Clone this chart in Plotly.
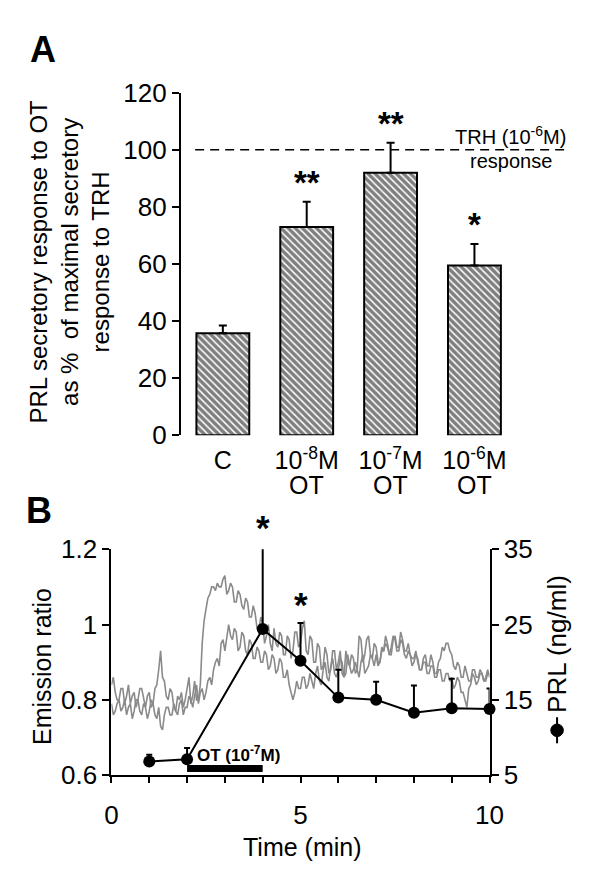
import plotly.graph_objects as go

W, H = 592, 871
FONT = "Liberation Sans, Arial, sans-serif"

# ---------------- Panel A data ----------------
cat_line1 = ["C", "10<sup>-8</sup>M", "10<sup>-7</sup>M", "10<sup>-6</sup>M"]
cat_line2 = ["", "OT", "OT", "OT"]
bar_vals = [35.7, 72.9, 91.9, 59.4]
bar_errs = [2.7, 8.9, 10.5, 7.6]
bar_stars = ["", "**", "**", "*"]
trh_level = 100

# ---------------- Panel B data ----------------
prl_time = [1, 2, 4, 5, 6, 7, 8, 9, 10]
prl_vals = [6.8, 7.1, 24.4, 20.2, 15.3, 15.0, 13.3, 13.9, 13.8]
prl_errs = [0.9, 1.5, 11.5, 5.0, 3.7, 2.4, 3.6, 3.9, 2.7]
prl_stars = {4: "*", 5: "*"}
ot_start, ot_end = 2, 4

trace_time = [round(0.05 * i, 2) for i in range(201)]
trace1 = [0.84, 0.86, 0.82, 0.80, 0.80, 0.83, 0.83, 0.79, 0.81, 0.84,
          0.79, 0.81, 0.82, 0.78, 0.80, 0.83, 0.83, 0.80, 0.78, 0.81,
          0.82, 0.78, 0.79, 0.83, 0.84, 0.88, 0.93, 0.86, 0.85, 0.81,
          0.80, 0.83, 0.82, 0.78, 0.77, 0.81, 0.80, 0.82, 0.78, 0.80,
          0.83, 0.86, 0.79, 0.81, 0.85, 0.80, 0.80, 0.84, 0.95, 1.01,
          1.04, 1.07, 1.08, 1.10, 1.10, 1.09, 1.11, 1.10, 1.10, 1.12,
          1.13, 1.08, 1.09, 1.11, 1.10, 1.06, 1.06, 1.09, 1.08, 1.05,
          1.04, 1.07, 1.06, 1.02, 1.02, 1.05, 1.03, 0.99, 0.99, 1.02,
          1.00, 0.95, 0.97, 1.00, 0.95, 0.93, 0.99, 0.95, 0.94, 0.98,
          0.97, 0.92, 0.92, 0.97, 0.96, 0.91, 0.93, 0.98, 0.98, 0.94,
          0.95, 0.99, 1.01, 0.93, 0.92, 0.97, 0.96, 0.90, 0.90, 0.95,
          0.94, 0.88, 0.89, 0.94, 0.92, 0.87, 0.88, 0.93, 0.93, 0.88,
          0.90, 0.93, 0.87, 0.86, 0.93, 0.90, 0.89, 0.92, 0.91, 0.87,
          0.88, 0.97, 0.96, 0.90, 0.92, 0.96, 0.97, 0.92, 0.91, 0.95,
          0.94, 0.90, 0.90, 0.94, 0.93, 0.97, 0.95, 0.92, 0.92, 0.96,
          0.97, 0.94, 0.94, 0.98, 0.96, 0.93, 0.93, 0.95, 0.92, 0.91,
          0.91, 0.93, 0.90, 0.88, 0.88, 0.91, 0.92, 0.89, 0.89, 0.92,
          0.90, 0.87, 0.87, 0.90, 0.91, 0.94, 0.93, 0.95, 0.95, 0.93,
          0.92, 0.89, 0.88, 0.90, 0.89, 0.86, 0.86, 0.89, 0.87, 0.85,
          0.85, 0.88, 0.88, 0.86, 0.86, 0.88, 0.87, 0.85, 0.85, 0.87,
          0.87]
trace2 = [0.79, 0.76, 0.77, 0.79, 0.80, 0.77, 0.78, 0.80, 0.76, 0.78,
          0.79, 0.75, 0.77, 0.80, 0.80, 0.77, 0.76, 0.79, 0.78, 0.75,
          0.77, 0.80, 0.79, 0.76, 0.75, 0.78, 0.73, 0.72, 0.76, 0.78,
          0.78, 0.76, 0.76, 0.79, 0.77, 0.76, 0.79, 0.80, 0.76, 0.78,
          0.78, 0.81, 0.80, 0.78, 0.81, 0.84, 0.79, 0.82, 0.83, 0.80,
          0.82, 0.85, 0.86, 0.84, 0.88, 0.90, 0.91, 0.89, 0.95, 0.96,
          0.93, 0.97, 1.00, 0.97, 0.96, 0.99, 0.98, 0.93, 0.94, 0.98,
          0.97, 0.93, 0.92, 0.96, 0.95, 0.91, 0.91, 0.94, 0.93, 0.90,
          0.90, 0.93, 0.92, 0.88, 0.89, 0.92, 0.91, 0.87, 0.88, 0.91,
          0.90, 0.86, 0.86, 0.88, 0.84, 0.82, 0.80, 0.82, 0.85, 0.83,
          0.83, 0.86, 0.86, 0.83, 0.84, 0.87, 0.85, 0.83, 0.87, 0.89,
          0.85, 0.84, 0.88, 0.90, 0.86, 0.85, 0.89, 0.91, 0.87, 0.86,
          0.88, 0.91, 0.90, 0.86, 0.87, 0.92, 0.89, 0.87, 0.88, 0.90,
          0.88, 0.86, 0.90, 0.92, 0.87, 0.88, 0.89, 0.92, 0.91, 0.89,
          0.92, 0.89, 0.90, 0.93, 0.93, 0.95, 0.94, 0.92, 0.94, 0.97,
          0.96, 0.93, 0.93, 0.96, 0.95, 0.92, 0.91, 0.93, 0.92, 0.89,
          0.90, 0.92, 0.91, 0.88, 0.88, 0.90, 0.90, 0.87, 0.87, 0.89,
          0.89, 0.86, 0.86, 0.88, 0.88, 0.85, 0.85, 0.87, 0.87, 0.85,
          0.86, 0.83, 0.84, 0.86, 0.85, 0.82, 0.82, 0.80, 0.78, 0.83,
          0.84, 0.87, 0.86, 0.84, 0.85, 0.87, 0.87, 0.85, 0.86, 0.88,
          0.86]


def px(x):
    return x / W


def py(y):
    return 1 - y / H


# axis domains (paper fractions)
XA = [px(172), px(572)]
YA = [py(427), py(72)]
XB = [px(100), px(492)]
YB = [py(779), py(545)]
Y3_RANGE = [5, 35]

fig = go.Figure()
bar_x = list(range(len(bar_vals)))

fig.add_trace(go.Bar(
    x=bar_x, y=bar_vals, width=0.63,
    marker=dict(color="white", line=dict(color="black", width=2),
                pattern=dict(shape="\\", fgcolor="black", bgcolor="white",
                             size=5, solidity=0.7)),
    error_y=dict(type="data", symmetric=False, array=bar_errs,
                 arrayminus=[0] * len(bar_errs), color="black",
                 thickness=2, width=4),
    xaxis="x", yaxis="y", showlegend=False, hoverinfo="skip"))

for tr in (trace1, trace2):
    fig.add_trace(go.Scatter(x=trace_time, y=tr, mode="lines",
                             line=dict(color="#8a8a8a", width=1.6),
                             xaxis="x2", yaxis="y2", showlegend=False,
                             hoverinfo="skip"))

fig.add_trace(go.Scatter(
    x=prl_time, y=prl_vals, mode="lines+markers",
    line=dict(color="black", width=2),
    marker=dict(color="black", size=12, symbol="circle"),
    error_y=dict(type="data", symmetric=False, array=prl_errs,
                 arrayminus=[0] * len(prl_errs), color="black",
                 thickness=2, width=3),
    xaxis="x2", yaxis="y3", showlegend=False, cliponaxis=False,
    hoverinfo="skip"))

axis_common = dict(showgrid=False, zeroline=False, linecolor="black",
                   linewidth=2, tickcolor="black", tickwidth=2,
                   tickfont=dict(family=FONT, size=26, color="black"))

fig.update_layout(
    width=W, height=H, margin=dict(l=0, r=0, t=0, b=0),
    paper_bgcolor="white", plot_bgcolor="rgba(0,0,0,0)",
    font=dict(family=FONT, color="black"),
    xaxis=dict(domain=XA, range=[-0.5, 4.1], anchor="y",
               showline=False, ticks="", tickvals=bar_x, ticktext=cat_line1,
               ticklabelstandoff=8, showgrid=False, zeroline=False,
               tickfont=dict(family=FONT, size=25, color="black")),
    yaxis=dict(domain=YA, range=[0, 120], anchor="x",
               showline=True, ticks="outside", ticklen=7,
               tickvals=list(range(0, 121, 20)), **axis_common),
    xaxis2=dict(domain=XB, range=[0, 10], anchor="y2",
                showline=True, ticks="outside", ticklen=6,
                tickvals=[0, 5, 10], ticklabelstandoff=10,
                minor=dict(tickvals=list(range(0, 11)), ticks="outside",
                           ticklen=6, tickwidth=2, tickcolor="black"),
                **axis_common),
    yaxis2=dict(domain=YB, range=[0.6, 1.2], anchor="x2",
                showline=True, ticks="outside", ticklen=7,
                tickvals=[0.6, 0.8, 1.0, 1.2],
                ticktext=["0.6", "0.8", "1", "1.2"], **axis_common),
    yaxis3=dict(range=Y3_RANGE, anchor="x2", overlaying="y2", side="right",
                showline=True, ticks="outside", ticklen=7,
                tickvals=[5, 15, 25, 35], **axis_common),
)

shapes = [
    dict(type="line", xref="x", yref="y", x0=-0.33, x1=4.07,
         y0=trh_level, y1=trh_level,
         line=dict(color="black", width=1.5, dash="9px,6px")),
    dict(type="line", xref="x2", yref="y2", x0=ot_start, x1=ot_end,
         y0=0.618, y1=0.618, line=dict(color="black", width=7)),
    # legend glyph beside the right-hand axis title
    dict(type="line", xref="paper", yref="paper", x0=px(562), x1=px(562),
         y0=py(719), y1=py(746), line=dict(color="black", width=2)),
    dict(type="circle", xref="paper", yref="paper",
         x0=px(555.5), x1=px(568.5), y0=py(726), y1=py(739),
         fillcolor="black", line=dict(color="black", width=1)),
]
fig.update_layout(shapes=shapes)

ann = []


def text(x, y, s, size, bold=False, angle=0, xref="paper", yref="paper",
         xanchor="center", yanchor="middle", yshift=0):
    ann.append(dict(x=x, y=y, xref=xref, yref=yref, text=s, showarrow=False,
                    textangle=angle, xanchor=xanchor, yanchor=yanchor,
                    yshift=yshift,
                    font=dict(family=FONT, size=size, color="black",
                              weight="bold" if bold else "normal")))


# panel letters
text(px(29), py(27), "A", 36, bold=True)
text(px(25), py(505), "B", 36, bold=True)

# panel A titles and labels
text(px(56), py(247),
     "PRL secretory response to OT<br>as %  of maximal secretory<br>response to TRH",
     24, angle=-90)
text(px(514), py(117), "TRH (10<sup>-6</sup>M)", 20)
text(px(514), py(143), "response", 20)
for i, s in enumerate(cat_line2):
    if s:
        ann.append(dict(x=bar_x[i], y=py(478), xref="x", yref="paper",
                        text=s, showarrow=False, xanchor="center",
                        yanchor="middle",
                        font=dict(family=FONT, size=25, color="black")))
for i, s in enumerate(bar_stars):
    if s:
        text(bar_x[i], bar_vals[i] + bar_errs[i], s, 33, bold=True,
             xref="x", yref="y", yanchor="middle", yshift=19)

# panel B titles and labels
text(px(28), py(667), "Emission ratio", 25, angle=-90)
text(px(298), py(853), "Time (min)", 25)
text(px(562), py(643), "PRL (ng/ml)", 26, angle=-90)
text(3.37, 0.657, "OT (10<sup>-7</sup>M)", 17, bold=True, xref="x2", yref="y2")


def y3_to_paper(v):
    return YB[0] + (v - Y3_RANGE[0]) / (Y3_RANGE[1] - Y3_RANGE[0]) * (YB[1] - YB[0])


for t, s in prl_stars.items():
    i = prl_time.index(t)
    top = prl_vals[i] + prl_errs[i]
    text(t, y3_to_paper(top), s, 35, bold=True,
         xref="x2", yref="paper", yanchor="middle",
         yshift=15 if top > Y3_RANGE[1] else 19)

fig.update_layout(annotations=ann)

fig.write_html("out.html")
